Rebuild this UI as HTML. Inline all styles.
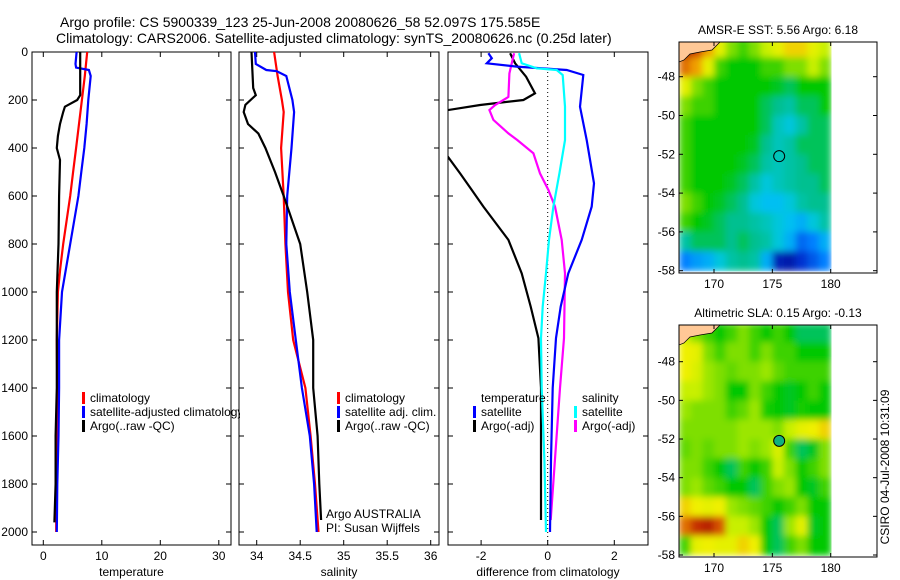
<!DOCTYPE html>
<html><head><meta charset="utf-8"><style>
body{margin:0;background:#fff;}
svg{display:block;font-family:"Liberation Sans",sans-serif;}
</style></head><body>
<svg id="fig" width="900" height="580" viewBox="0 0 900 580" xmlns="http://www.w3.org/2000/svg">
<defs>
<clipPath id="c1"><rect x="32" y="45" width="208" height="500"/></clipPath>
<clipPath id="cp1"><rect x="32" y="52" width="199" height="493"/></clipPath>
<clipPath id="cp2"><rect x="239" y="52" width="200" height="493"/></clipPath>
<clipPath id="cp3"><rect x="448" y="52" width="200" height="493"/></clipPath>
<clipPath id="cm1"><rect x="679" y="42" width="152.7" height="231"/></clipPath>
<clipPath id="cm2"><rect x="679" y="325" width="152.7" height="232"/></clipPath>
<filter id="soft" x="0" y="0" width="1" height="1"><feGaussianBlur stdDeviation="3.5" edgeMode="duplicate"/></filter>
</defs>
<text x="60" y="27" font-size="14">Argo profile: CS 5900339_123 25-Jun-2008 20080626_58 52.097S 175.585E</text>
<text x="56" y="43" font-size="14">Climatology: CARS2006. Satellite-adjusted climatology: synTS_20080626.nc (0.25d later)</text>
<g id="g1"></g>
<g id="g2"></g>
<g id="g3"></g>
<g id="m1"></g>
<g id="m2"></g>
<text transform="translate(889,467) rotate(-90)" font-size="12" text-anchor="middle">CSIRO 04-Jul-2008 10:31:09</text>
</svg>
<script>
// ---------- profile data ----------
const depthTicks=[0,200,400,600,800,1000,1200,1400,1600,1800,2000];
const tempTicks=[0,10,20,30];
const salTicks=[34,34.5,35,35.5,36];
const diffTicks=[-2,0,2];
const tClimD=[0,100,200,300,400,500,600,700,800,900,1000,1200,1400,1600,1800,2000];
const tClimV=[7.5,7.1,6.6,6.1,5.6,5.1,4.6,4.0,3.4,2.9,2.5,2.3,2.4,2.3,2.2,2.2];
const tSatD=[0,50,65,75,100,200,300,400,500,600,700,800,1000,1200,1400,1600,1800,2000];
const tSatV=[5.7,5.5,5.6,7.8,8.1,7.7,7.4,7.0,6.5,6.0,5.3,4.6,3.2,2.7,2.7,2.6,2.4,2.3];
const tArgoD=[0,180,200,228,250,300,350,400,450,600,800,1000,1200,1400,1600,1800,1960];
const tArgoV=[6.3,6.3,5.8,3.7,3.4,2.85,2.5,2.3,2.85,2.7,2.6,2.3,2.3,2.3,2.1,2.1,1.9];
const sClimD=[0,100,200,250,400,600,800,1000,1200,1400,1600,1800,2000];
const sClimV=[34.2,34.24,34.29,34.31,34.28,34.31,34.33,34.36,34.42,34.56,34.62,34.67,34.71];
const sSatD=[0,50,75,80,100,200,250,400,600,800,1000,1200,1400,1600,1800,2000];
const sSatV=[33.98,33.99,34.11,34.23,34.34,34.41,34.43,34.4,34.35,34.34,34.38,34.45,34.52,34.61,34.66,34.69];
const sArgoD=[0,150,180,220,250,300,340,400,500,600,800,1000,1200,1400,1600,1800,1950];
const sArgoV=[33.94,33.96,33.99,33.87,33.85,33.9,34.02,34.1,34.21,34.31,34.5,34.58,34.65,34.65,34.7,34.72,34.74];
const dTSatD=[5,26,47,61,75,96,228,367,547,644,783,922,1061,1192,1400,1700,2000];
const dTSatV=[-1.78,-1.68,-1.83,-0.93,0.57,1.07,0.97,1.17,1.39,1.32,1.02,0.62,0.39,0.25,0.15,0.1,0.07];
const dSSatD=[5,47,68,75,96,228,367,506,644,783,922,1061,1192,1400,1700,2000];
const dSSatV=[-0.86,-0.78,-0.33,0.27,0.45,0.52,0.52,0.35,0.17,0.04,-0.05,-0.15,-0.2,-0.18,-0.1,-0.05];
const dTArgoD=[5,47,103,172,200,221,242,300,400,436,506,575,644,783,922,1061,1192,1400,1700,1950];
const dTArgoV=[-1.13,-0.98,-0.65,-0.38,-0.73,-2.03,-3.0,-3.6,-3.5,-3.0,-2.63,-2.28,-1.93,-1.18,-0.78,-0.51,-0.28,-0.2,-0.2,-0.2];
const dSArgoD=[5,89,187,221,242,283,339,367,422,506,575,644,783,922,1192,1400,1950];
const dSArgoV=[-1.01,-1.15,-1.18,-1.58,-1.75,-1.63,-1.18,-0.91,-0.43,-0.23,0.02,0.22,0.42,0.52,0.49,0.37,0.09];
// ---------- map data (1-degree cells, lon 167..180, lat -46..-58, colour index 0..1) ----------
const mapLons=[167,168,169,170,171,172,173,174,175,176,177,178,179];
const mapLats=[-46,-47,-48,-49,-50,-51,-52,-53,-54,-55,-56,-57];
const sstGrid=[
[1.0,0.9,0.8,0.7,0.6,0.55,0.6,0.65,0.7,0.75,0.75,0.7,0.65],
[0.85,0.8,0.7,0.55,0.5,0.5,0.5,0.55,0.55,0.6,0.6,0.65,0.6],
[0.7,0.6,0.55,0.5,0.5,0.5,0.5,0.5,0.48,0.45,0.5,0.5,0.5],
[0.6,0.55,0.55,0.5,0.5,0.5,0.5,0.45,0.42,0.4,0.45,0.45,0.5],
[0.55,0.5,0.5,0.5,0.5,0.5,0.5,0.45,0.38,0.35,0.4,0.45,0.45],
[0.55,0.5,0.5,0.5,0.5,0.5,0.48,0.42,0.38,0.4,0.45,0.45,0.45],
[0.55,0.5,0.5,0.5,0.5,0.48,0.45,0.4,0.38,0.4,0.42,0.45,0.45],
[0.55,0.5,0.5,0.5,0.48,0.45,0.4,0.35,0.38,0.4,0.42,0.42,0.45],
[0.6,0.55,0.5,0.48,0.45,0.42,0.35,0.32,0.32,0.35,0.4,0.42,0.42],
[0.55,0.5,0.48,0.45,0.42,0.42,0.4,0.38,0.35,0.32,0.3,0.35,0.4],
[0.4,0.45,0.45,0.45,0.42,0.45,0.42,0.4,0.35,0.3,0.22,0.25,0.3],
[0.25,0.28,0.3,0.35,0.4,0.42,0.4,0.3,0.1,0.08,0.15,0.2,0.25]];
const slaGrid=[
[0.65,0.6,0.55,0.5,0.55,0.6,0.55,0.5,0.55,0.5,0.45,0.45,0.45],
[0.72,0.7,0.6,0.55,0.6,0.6,0.55,0.6,0.55,0.55,0.5,0.5,0.5],
[0.72,0.68,0.62,0.6,0.58,0.6,0.6,0.62,0.58,0.55,0.55,0.55,0.55],
[0.65,0.65,0.62,0.6,0.5,0.5,0.6,0.55,0.5,0.48,0.5,0.55,0.5],
[0.62,0.6,0.6,0.6,0.55,0.58,0.62,0.52,0.5,0.48,0.52,0.5,0.5],
[0.6,0.6,0.6,0.6,0.6,0.62,0.62,0.62,0.6,0.65,0.7,0.72,0.75],
[0.58,0.6,0.58,0.6,0.6,0.62,0.6,0.62,0.68,0.55,0.45,0.48,0.6],
[0.6,0.6,0.55,0.5,0.45,0.55,0.5,0.55,0.65,0.6,0.5,0.55,0.6],
[0.6,0.62,0.58,0.55,0.5,0.5,0.45,0.55,0.6,0.62,0.5,0.48,0.55],
[0.75,0.72,0.7,0.72,0.62,0.6,0.58,0.55,0.5,0.55,0.6,0.5,0.5],
[0.85,0.92,0.95,0.88,0.65,0.65,0.62,0.5,0.45,0.62,0.7,0.48,0.5],
[0.55,0.7,0.72,0.7,0.7,0.75,0.72,0.5,0.45,0.55,0.6,0.5,0.5]];
const latTicks=[-48,-50,-52,-54,-56,-58];
const lonTicks=[170,175,180];
const argoLon=175.585, argoLat=-52.097;

const NS='http://www.w3.org/2000/svg';
function mk(parent,tag,attrs,txt){const e=document.createElementNS(NS,tag);for(const k in attrs)e.setAttribute(k,attrs[k]);if(txt!==undefined)e.textContent=txt;parent.appendChild(e);return e;}
const dy=d=>52+d*0.24;

function panel(g,left,right,x0,pxPer,xt,xlabel,clip,ticksLeftLabels){
  const f=v=>x0+v*pxPer;
  const frame=mk(g,'rect',{x:left,y:52,width:right-left,height:493,fill:'none',stroke:'#000','stroke-width':1});
  
  
  depthTicks.forEach(d=>{
    const y=dy(d);
    const t1=mk(g,'line',{x1:left,x2:left+5,y1:y,y2:y,stroke:'#000'});
    
    
    const t2=mk(g,'line',{x1:right-5,x2:right,y1:y,y2:y,stroke:'#000'});
    
    
    if(ticksLeftLabels){
      const l=mk(g,'text',{x:left-4,y:y+4,'font-size':12,'text-anchor':'end'},String(d));
      
      
    }
  });
  xt.forEach(v=>{
    const x=f(v);
    const t1=mk(g,'line',{x1:x,x2:x,y1:545,y2:540,stroke:'#000'});
    
    
    const t2=mk(g,'line',{x1:x,x2:x,y1:52,y2:57,stroke:'#000'});
    
    
    const l=mk(g,'text',{x:x,y:560,'font-size':12,'text-anchor':'middle'},String(v));
    
    
  });
  const xl=mk(g,'text',{x:(left+right)/2,y:576,'font-size':12,'text-anchor':'middle'},xlabel);
  
  
  return f;
}
function series(g,f,D,V,color,clip,name){
  const pts=D.map((d,i)=>f(V[i]).toFixed(1)+','+dy(d).toFixed(1)).join(' ');
  const p=mk(g,'polyline',{points:pts,fill:'none',stroke:color,'stroke-width':2.2,'clip-path':'url(#'+clip+')'});
  
  
}
function legend(g,x,y,color,label,clip){
  if(color){const b=mk(g,'rect',{x:x-8,y:y-10,width:3,height:12,fill:color});
    
    }
  const t=mk(g,'text',{x:x,y:y,'font-size':12},label);
  if(clip)t.setAttribute('clip-path','url(#'+clip+')');
  
  
}
// panel 1
const g1=document.getElementById('g1');
const f1=panel(g1,32,231,43.3,5.85,tempTicks,'temperature','cp1',true);
series(g1,f1,tClimD,tClimV,'#ff0000','cp1','temperature-climatology-line');
series(g1,f1,tSatD,tSatV,'#0000ff','cp1','temperature-satellite-line');
series(g1,f1,tArgoD,tArgoV,'#000000','cp1','temperature-argo-line');
legend(g1,90,402,'#ff0000','climatology');
legend(g1,90,416,'#0000ff','satellite-adjusted climatology','c1');
legend(g1,90,430,'#000000','Argo(..raw -QC)');
// panel 2
const g2=document.getElementById('g2');
const f2=panel(g2,239,439,256.7-34*87,87,salTicks,'salinity','cp2',false);
series(g2,f2,sClimD,sClimV,'#ff0000','cp2','salinity-climatology-line');
series(g2,f2,sSatD,sSatV,'#0000ff','cp2','salinity-satellite-line');
series(g2,f2,sArgoD,sArgoV,'#000000','cp2','salinity-argo-line');
legend(g2,345,402,'#ff0000','climatology');
legend(g2,345,416,'#0000ff','satellite adj. clim.');
legend(g2,345,430,'#000000','Argo(..raw -QC)');
legend(g2,326,518,null,'Argo AUSTRALIA');
legend(g2,326,532,null,'PI: Susan Wijffels');
// panel 3
const g3=document.getElementById('g3');
const f3=panel(g3,448,648,547.7,33.3,diffTicks,'difference from climatology','cp3',false);
const zl=mk(g3,'line',{x1:f3(0),x2:f3(0),y1:52,y2:545,stroke:'#000','stroke-dasharray':'1,3'});


series(g3,f3,dTArgoD,dTArgoV,'#000000','cp3','temp-diff-argo-line');
series(g3,f3,dSArgoD,dSArgoV,'#ff00ff','cp3','sal-diff-argo-line');
series(g3,f3,dTSatD,dTSatV,'#0000ff','cp3','temp-diff-satellite-line');
series(g3,f3,dSSatD,dSSatV,'#00ffff','cp3','sal-diff-satellite-line');
legend(g3,481,402,null,'temperature');
legend(g3,481,416,'#0000ff','satellite');
legend(g3,481,430,'#000000','Argo(-adj)');
legend(g3,582,402,null,'salinity');
legend(g3,582,416,'#00ffff','satellite');
legend(g3,582,430,'#ff00ff','Argo(-adj)');

// ---------- maps ----------
const cstops=[[0,[0,0,128]],[0.15,[0,48,208]],[0.25,[0,128,255]],[0.33,[0,200,240]],[0.42,[0,192,144]],[0.5,[0,200,0]],[0.58,[96,216,0]],[0.65,[200,240,0]],[0.72,[240,240,0]],[0.8,[240,160,0]],[0.9,[208,64,0]],[1,[160,0,0]]];
function cmap(v){for(let i=1;i<cstops.length;i++){if(v<=cstops[i][0]){const a=cstops[i-1],b=cstops[i],t=(v-a[0])/(b[0]-a[0]);return 'rgb('+a[1].map((c,k)=>Math.round(c+(b[1][k]-c)*t)).join(',')+')';}}return 'rgb(160,0,0)';}
function drawMap(gid,grid,top,bottom,lat48y,lat58y,title,clip,filledDot){
  const g=document.getElementById(gid);
  const lx=v=>714+(v-170)*11.67;
  const ly=v=>lat48y+(-48-v)*(lat58y-lat48y)/10;
  const cw=11.67, ch=(lat58y-lat48y)/10;
  const outer=mk(g,'g',{'clip-path':'url(#'+clip+')'});
  
  
  const inner=mk(outer,'g',{filter:'url(#soft)'});
  
  
  grid.forEach((row,r)=>row.forEach((v,c)=>{
    const cell=mk(inner,'rect',{x:lx(mapLons[c]).toFixed(1),y:ly(mapLats[r]).toFixed(1),width:cw+0.6,height:ch+0.6,fill:cmap(v)});
    
    
  }));
  const land=mk(outer,'path',{d:`M679,${top} L720,${top} L712,${top+8} L700,${top+10} L690,${top+12} L684,${top+18} L679,${top+20} Z`,fill:'#ffc896',stroke:'#000','stroke-width':0.7});
  
  
  const fr=mk(g,'rect',{x:679,y:top,width:198,height:bottom-top,fill:'none',stroke:'#000'});
  
  
  latTicks.forEach(v=>{
    const y=ly(v);
    const t=mk(g,'line',{x1:679,x2:683,y1:y,y2:y,stroke:'#000'});
    
    
    const t2=mk(g,'line',{x1:873,x2:877,y1:y,y2:y,stroke:'#000'});
    
    
    const l=mk(g,'text',{x:675,y:y+4,'font-size':12,'text-anchor':'end'},String(v));
    
    
  });
  lonTicks.forEach(v=>{
    const x=lx(v);
    const t=mk(g,'line',{x1:x,x2:x,y1:bottom,y2:bottom-4,stroke:'#000'});
    
    
    const t2=mk(g,'line',{x1:x,x2:x,y1:top,y2:top+4,stroke:'#000'});
    
    
    const l=mk(g,'text',{x:x,y:bottom+15,'font-size':12,'text-anchor':'middle'},String(v));
    
    
  });
  const tt=mk(g,'text',{x:778,y:top-8,'font-size':12,'text-anchor':'middle'},title);
  
  
  const dot=mk(g,'circle',{cx:lx(argoLon),cy:ly(argoLat),r:5.5,fill:filledDot?'#10b080':'none',stroke:'#000','stroke-width':1});
  
  
}
drawMap('m1',sstGrid,42,273,76.7,270.7,'AMSR-E SST: 5.56 Argo: 6.18','cm1',false);
drawMap('m2',slaGrid,325,557,361.7,555,'Altimetric SLA: 0.15 Argo: -0.13','cm2',true);
</script>
</body></html>
